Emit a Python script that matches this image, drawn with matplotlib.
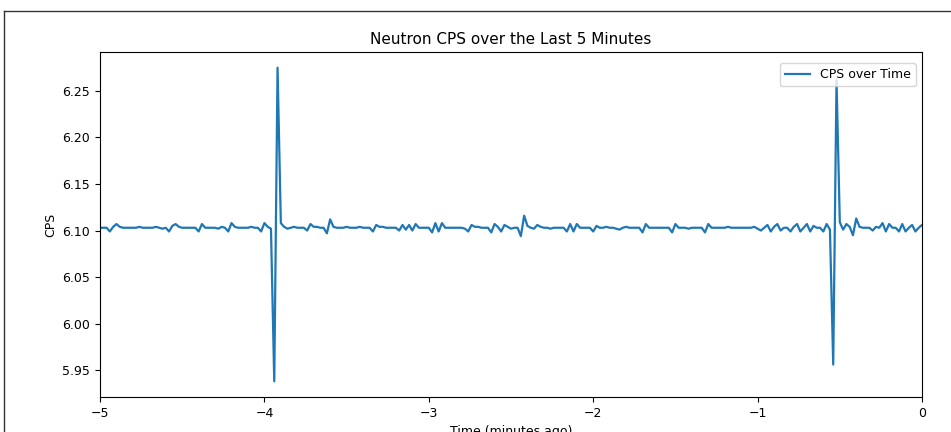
import numpy as np
import matplotlib
matplotlib.use("Agg")
import matplotlib.pyplot as plt
from matplotlib.lines import Line2D

title = "Neutron CPS over the Last 5 Minutes"
xlabel = "Time (minutes ago)"
ylabel = "CPS"
series_label = "CPS over Time"
x_start, x_end = -5, 0

cps = [
    6.103, 6.103, 6.103, 6.099, 6.104, 6.107, 6.104, 6.103, 6.103, 6.103,
    6.103, 6.103, 6.104, 6.103, 6.103, 6.103, 6.103, 6.104, 6.103, 6.102,
    6.103, 6.099, 6.105, 6.107, 6.104, 6.103, 6.103, 6.103, 6.103, 6.103,
    6.099, 6.107, 6.103, 6.103, 6.103, 6.103, 6.102, 6.104, 6.103, 6.099,
    6.108, 6.104, 6.103, 6.103, 6.103, 6.103, 6.104, 6.103, 6.103, 6.099,
    6.108, 6.104, 6.102, 5.938, 6.275, 6.108, 6.104, 6.102, 6.103, 6.104,
    6.103, 6.103, 6.103, 6.100, 6.107, 6.104, 6.104, 6.103, 6.103, 6.097,
    6.112, 6.104, 6.103, 6.103, 6.103, 6.104, 6.103, 6.103, 6.103, 6.104,
    6.103, 6.103, 6.103, 6.099, 6.106, 6.104, 6.104, 6.103, 6.103, 6.103,
    6.103, 6.100, 6.106, 6.101, 6.106, 6.100, 6.107, 6.103, 6.103, 6.103,
    6.103, 6.098, 6.108, 6.099, 6.108, 6.103, 6.103, 6.103, 6.103, 6.103,
    6.103, 6.102, 6.099, 6.106, 6.104, 6.104, 6.103, 6.103, 6.103, 6.098,
    6.107, 6.104, 6.099, 6.106, 6.104, 6.102, 6.103, 6.103, 6.094, 6.116,
    6.105, 6.103, 6.102, 6.106, 6.104, 6.103, 6.103, 6.102, 6.103, 6.103,
    6.103, 6.103, 6.099, 6.107, 6.099, 6.107, 6.103, 6.103, 6.103, 6.103,
    6.099, 6.105, 6.103, 6.103, 6.104, 6.103, 6.103, 6.102, 6.101, 6.103,
    6.104, 6.103, 6.103, 6.103, 6.103, 6.098, 6.107, 6.103, 6.103, 6.103,
    6.103, 6.103, 6.103, 6.103, 6.098, 6.107, 6.103, 6.103, 6.103, 6.102,
    6.103, 6.103, 6.103, 6.103, 6.098, 6.107, 6.103, 6.103, 6.103, 6.103,
    6.103, 6.104, 6.103, 6.103, 6.103, 6.103, 6.103, 6.103, 6.103, 6.104,
    6.102, 6.100, 6.103, 6.106, 6.099, 6.104, 6.107, 6.100, 6.103, 6.103,
    6.099, 6.104, 6.107, 6.099, 6.103, 6.107, 6.099, 6.105, 6.103, 6.103,
    6.099, 6.107, 6.101, 5.956, 6.262, 6.109, 6.101, 6.107, 6.104, 6.095,
    6.113, 6.104, 6.103, 6.103, 6.103, 6.100, 6.104, 6.103, 6.108, 6.099,
    6.107, 6.103, 6.103, 6.099, 6.107, 6.099, 6.103, 6.106, 6.099, 6.103,
    6.106,
]
times = np.linspace(x_start, x_end, len(cps))

fig = plt.figure(figsize=(9.51, 4.32), dpi=100)
ax = fig.add_axes([100 / 951, 1 - 397 / 432, 822 / 951, 345 / 432])
ax.plot(times, cps, color="#1f77b4", linewidth=1.6, label=series_label)
ax.set_xlim(x_start, x_end)
ax.set_title(title, fontsize=11)
ax.set_xlabel(xlabel, fontsize=9)
ax.set_ylabel(ylabel, fontsize=9)
ax.tick_params(labelsize=9)
ax.legend(loc="upper right", fontsize=9, bbox_to_anchor=(1.0, 0.985))

# screenshot frame (top and left edges)
fig.add_artist(Line2D([4 / 951, 1], [1 - 11 / 432, 1 - 11 / 432], transform=fig.transFigure, color="#333333", linewidth=1))
fig.add_artist(Line2D([4 / 951, 4 / 951], [0, 1 - 11 / 432], transform=fig.transFigure, color="#333333", linewidth=1))

fig.savefig("out.png", dpi=100)
